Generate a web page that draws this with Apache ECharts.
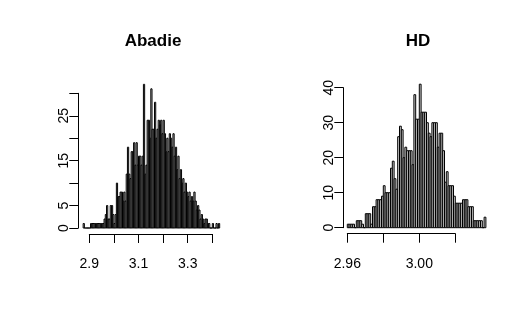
<!DOCTYPE html>
<html>
<head>
<meta charset="utf-8">
<script src="https://cdn.jsdelivr.net/npm/echarts@6/dist/echarts.min.js"></script>
<style>
  html, body { margin: 0; padding: 0; background: #fff; }
  #chart { width: 530px; height: 332px; }
</style>
</head>
<body>
<div id="chart"></div>
<script>
// Abadie histogram: bins of 0.005 starting at 2.875
const abadieStart = 2.875;
const abadieBin = 0.005;
const abadieCounts = [
  1, 0, 0, 0, 0, 0, 1, 1, 1, 1, 1, 1, 1, 1, 1, 1, 1, 2, 3, 5,
  2, 2, 5, 5, 3, 1, 3, 10, 7, 7, 8, 8, 6, 8, 6, 12, 18, 12, 11, 17,
  17, 19, 14, 19, 14, 16, 16, 14, 16, 32, 12, 14, 24, 24, 20, 31, 22, 22, 28, 20,
  22, 24, 23, 24, 21, 24, 21, 17, 20, 17, 21, 20, 18, 21, 16, 18, 13, 16, 11, 13,
  10, 11, 8, 10, 8, 7, 8, 6, 7, 6, 8, 6, 4, 5, 4, 2, 3, 2, 1, 2,
  2, 1, 1, 0, 0, 1, 0, 0, 1, 0, 1
];
const abadieXTicks = [2.9, 3.4, 0.1];      // min, max, step
const abadieXLabels = ['2.9', '3.1', '3.3'];
const abadieYTicks = [0, 30, 5];
const abadieYLabels = ['0', '5', '15', '25'];

// HD histogram: bins of 0.001 starting at 2.960
const hdStart = 2.960;
const hdBin = 0.001;
const hdCounts = [
  1, 1, 1, 1, 0, 2, 2, 2, 1, 0, 4, 4, 4, 1, 6, 6, 8, 8, 8, 9,
  12, 10, 10, 10, 17, 19, 14, 11, 26, 29, 28, 20, 23, 22, 22, 22, 18, 38, 31, 31,
  41, 33, 33, 33, 30, 27, 26, 30, 30, 30, 23, 27, 27, 22, 13, 16, 12, 12, 12, 9,
  7, 7, 7, 7, 8, 8, 8, 6, 6, 6, 2, 2, 2, 2, 2, 0, 3
];
const hdXTicks = [2.96, 3.02, 0.02];
const hdXLabels = ['2.96', '3.00'];
const hdYTicks = [0, 40, 10];
const hdYLabels = ['0', '10', '20', '30', '40'];

const FONT = '"Liberation Sans", Arial, Helvetica, sans-serif';

function toBins(start, width, counts) {
  return counts.map((c, i) => [start + i * width, start + (i + 1) * width, c]);
}

function renderBar(params, api) {
  const p0 = api.coord([api.value(0), 0]);
  const p1 = api.coord([api.value(1), api.value(2)]);
  return {
    type: 'rect',
    shape: { x: p0[0], y: p1[1], width: p1[0] - p0[0], height: p0[1] - p1[1] },
    style: { fill: '#d3d3d3', stroke: '#000', lineWidth: 1 }
  };
}

function labelFilter(list, digits) {
  return function(v) {
    const s = v.toFixed(digits);
    return list.indexOf(s) >= 0 ? s : '';
  };
}

function xAxisFor(idx, ticks, labels, digits) {
  return {
    type: 'value', gridIndex: idx,
    min: ticks[0], max: ticks[1], interval: ticks[2],
    offset: 6,
    splitLine: { show: false },
    axisLine: { show: true, onZero: false, lineStyle: { color: '#000', width: 1 } },
    axisTick: { show: true, length: 9, lineStyle: { color: '#000', width: 1 } },
    axisLabel: {
      show: true, margin: 23, color: '#000', fontSize: 14, fontFamily: FONT,
      formatter: labelFilter(labels, digits), showMinLabel: true, showMaxLabel: true
    }
  };
}

function yAxisFor(idx, ticks, labels, offset) {
  return {
    type: 'value', gridIndex: idx,
    min: ticks[0], max: ticks[1], interval: ticks[2],
    offset: offset,
    splitLine: { show: false },
    axisLine: { show: true, onZero: false, lineStyle: { color: '#000', width: 1 } },
    axisTick: { show: true, length: 9, lineStyle: { color: '#000', width: 1 } },
    axisLabel: {
      show: true, rotate: 90, margin: 7, color: '#000', fontSize: 14, fontFamily: FONT,
      formatter: labelFilter(labels, 0), showMinLabel: true, showMaxLabel: true
    }
  };
}

const chart = echarts.init(document.getElementById('chart'), null, { renderer: 'canvas' });
chart.setOption({
  animation: false,
  backgroundColor: '#fff',
  title: [
    { text: 'Abadie', left: 148, top: 28, textAlign: 'center',
      textStyle: { fontSize: 17, fontWeight: 'bold', color: '#000', fontFamily: FONT } },
    { text: 'HD', left: 413, top: 28, textAlign: 'center',
      textStyle: { fontSize: 17, fontWeight: 'bold', color: '#000', fontFamily: FONT } }
  ],
  grid: [
    { left: 89.3, right: 317.7, top: 93.3, bottom: 104, containLabel: false },
    { left: 347.3, right: 74.7, top: 87.7, bottom: 104.3, containLabel: false }
  ],
  xAxis: [
    xAxisFor(0, abadieXTicks, abadieXLabels, 1),
    xAxisFor(1, hdXTicks, hdXLabels, 2)
  ],
  yAxis: [
    yAxisFor(0, abadieYTicks, abadieYLabels, 11),
    yAxisFor(1, hdYTicks, hdYLabels, 4)
  ],
  series: [
    { type: 'custom', xAxisIndex: 0, yAxisIndex: 0, clip: false,
      renderItem: renderBar, encode: { x: [0, 1], y: 2 },
      data: toBins(abadieStart, abadieBin, abadieCounts) },
    { type: 'custom', xAxisIndex: 1, yAxisIndex: 1, clip: false,
      renderItem: renderBar, encode: { x: [0, 1], y: 2 },
      data: toBins(hdStart, hdBin, hdCounts) }
  ]
});
</script>
</body>
</html>
